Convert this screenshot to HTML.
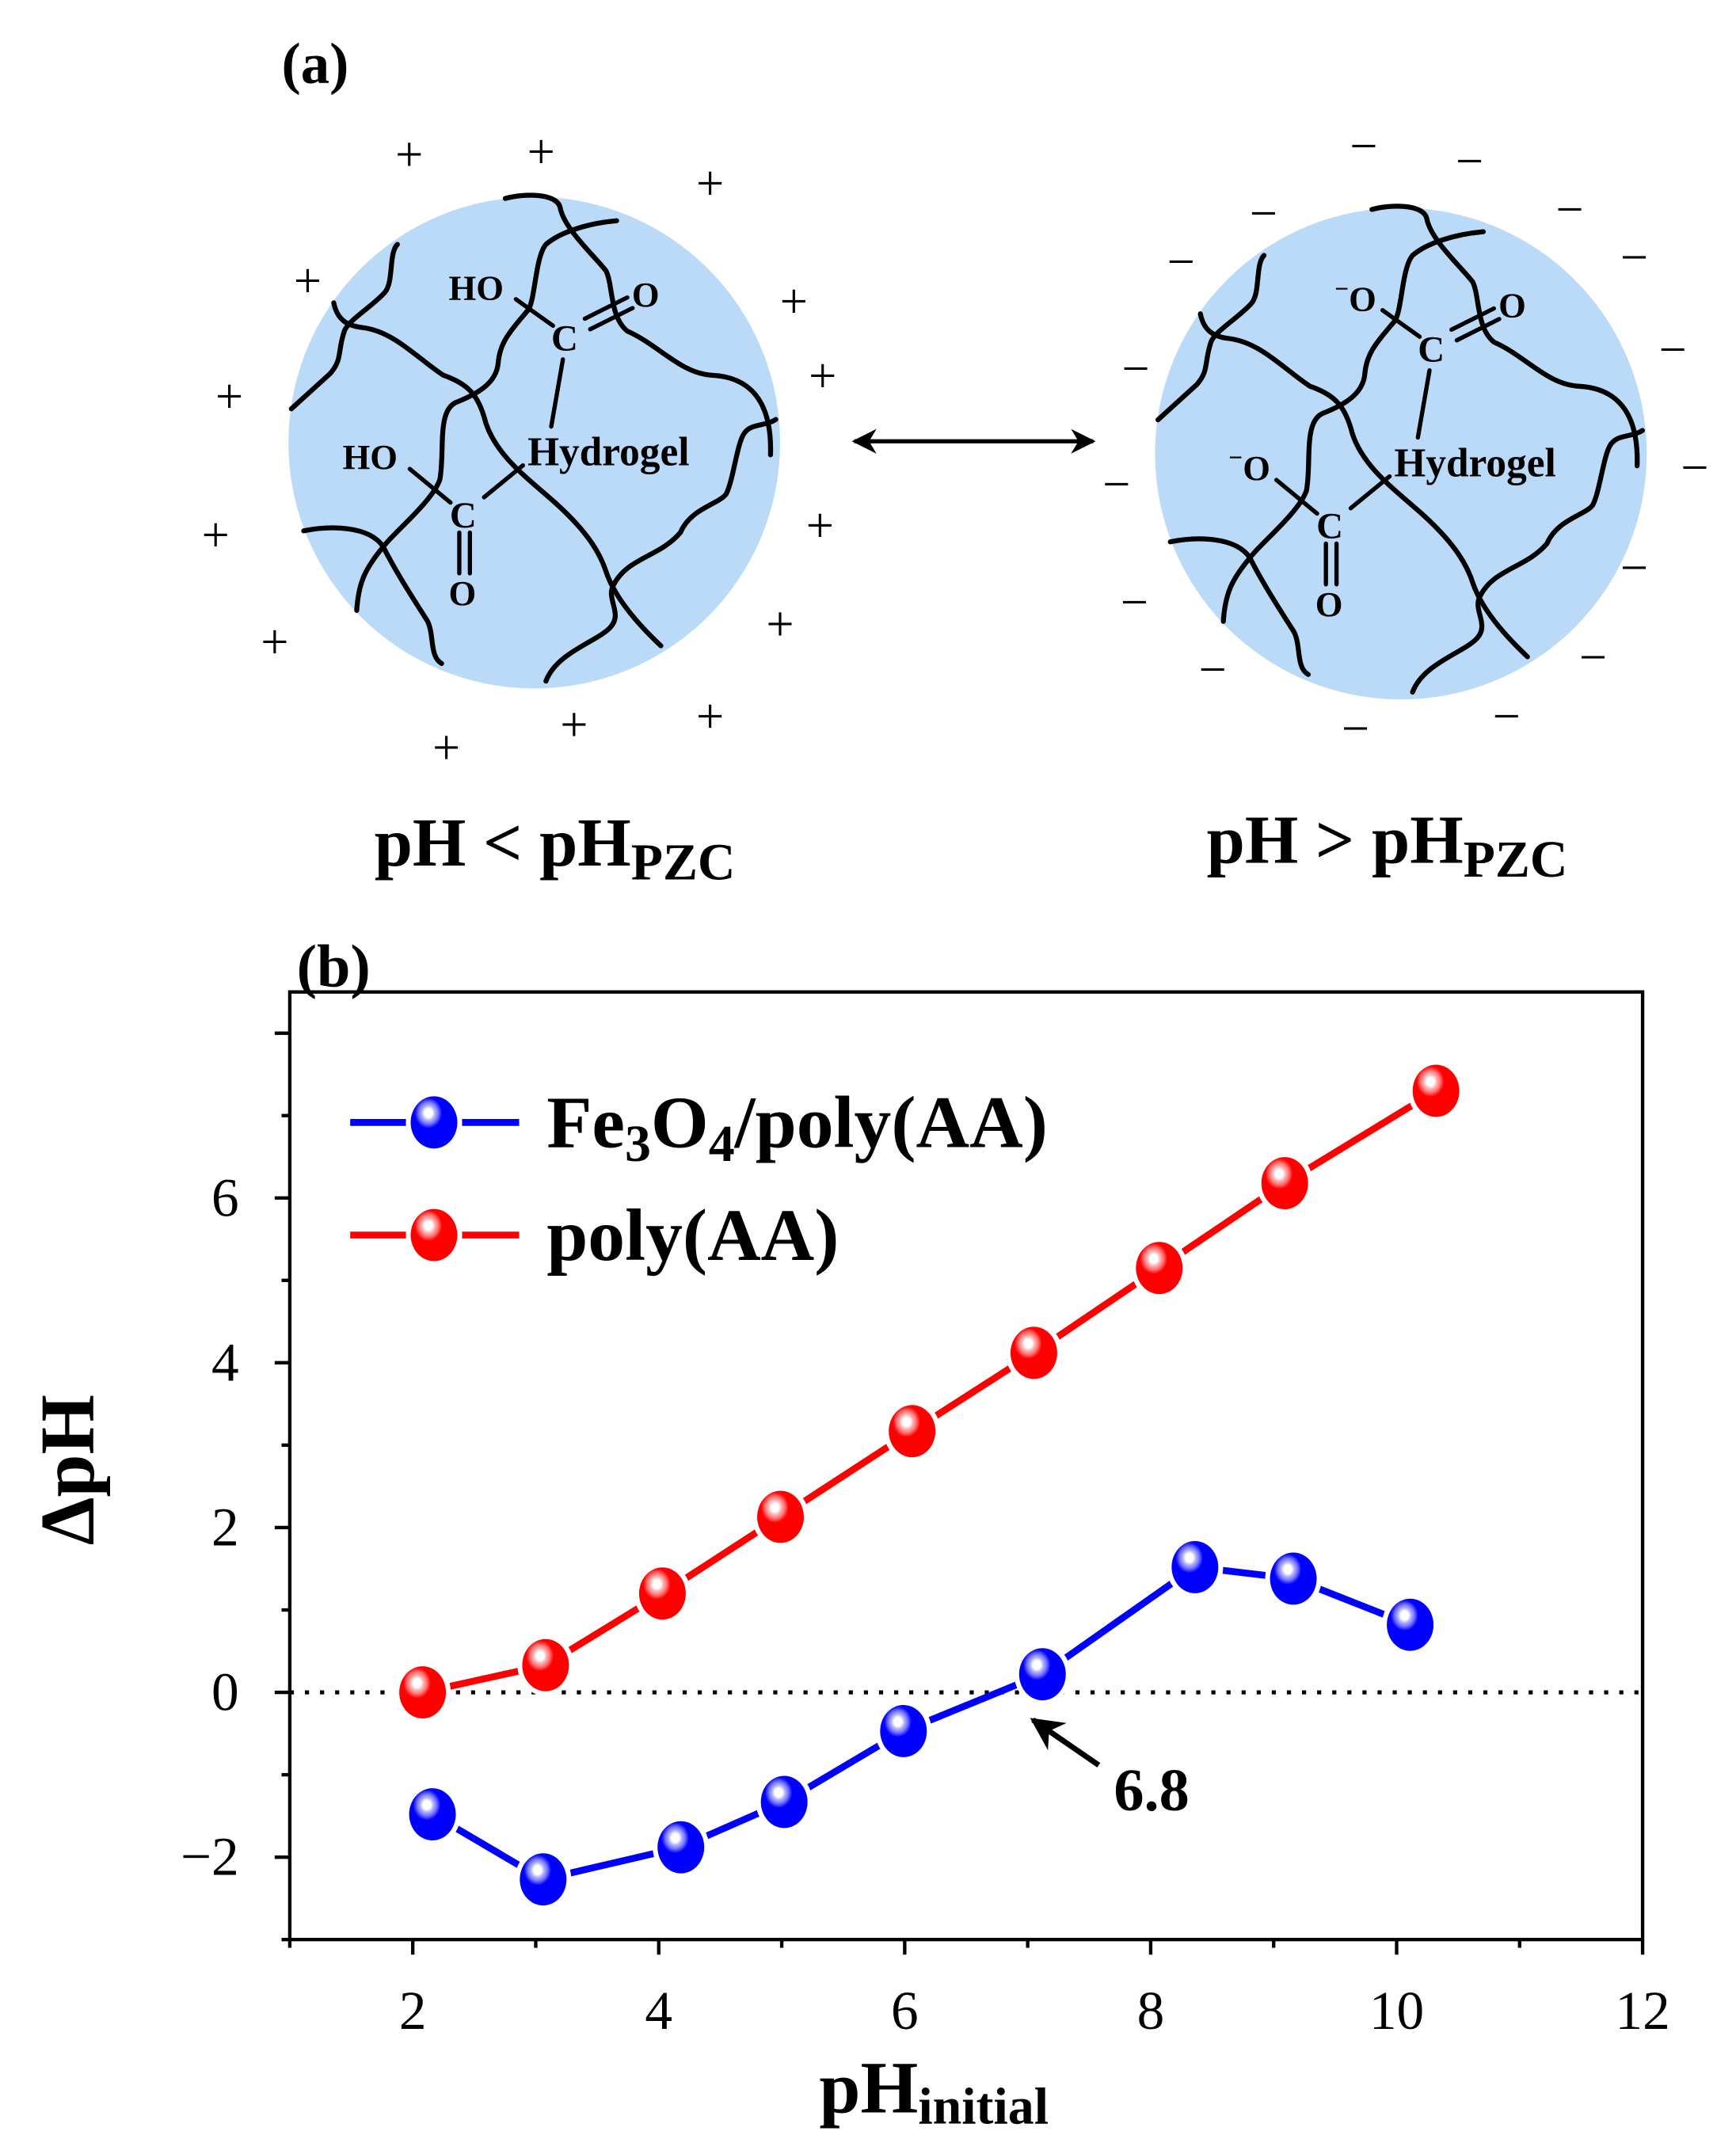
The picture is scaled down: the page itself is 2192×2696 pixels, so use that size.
<!DOCTYPE html>
<html><head><meta charset="utf-8"><style>
html,body{margin:0;padding:0;background:#fff;}
svg{display:block;}
text{font-family:"Liberation Serif",serif;font-weight:bold;fill:#000;}
text.reg{font-weight:normal;}
</style></head><body>
<svg id="fig" width="2192" height="2696" viewBox="0 0 1264 1554" xmlns="http://www.w3.org/2000/svg">
<defs>
<radialGradient id="gb" cx="0.38" cy="0.32" r="0.7"><stop offset="0" stop-color="#fff"/><stop offset="0.12" stop-color="#fff"/><stop offset="0.2" stop-color="#b3b3ff"/><stop offset="0.3" stop-color="#7373ff"/><stop offset="0.42" stop-color="#0000ff"/><stop offset="1" stop-color="#0000ff"/></radialGradient>
<radialGradient id="gr" cx="0.38" cy="0.32" r="0.7"><stop offset="0" stop-color="#fff"/><stop offset="0.12" stop-color="#fff"/><stop offset="0.2" stop-color="#ffb3b3"/><stop offset="0.3" stop-color="#ff7373"/><stop offset="0.42" stop-color="#ff0000"/><stop offset="1" stop-color="#ff0000"/></radialGradient>
<marker id="ah" viewBox="0 0 10 10" refX="9" refY="5" markerWidth="6" markerHeight="6" orient="auto-start-reverse"><path d="M0,0 L10,5 L0,10 L3,5 z" fill="#000"/></marker>
</defs>

<text x="205" y="60" font-size="42">(a)</text>

<g>
<circle cx="389" cy="322" r="179" fill="#bbdaf8"/>
<g transform="translate(201.8,132.6) scale(0.2575)" fill="none" stroke="#000" stroke-width="14" stroke-linecap="round">
<path d="M645,45 C700,30 790,30 800,70 C810,130 900,210 930,250 C950,290 940,380 990,420 C1080,460 1140,540 1230,545 C1330,550 1400,610 1395,770"/>
<path d="M960,108 C880,115 800,140 760,175 C730,210 730,330 710,360 C660,420 630,450 625,510 C620,570 560,600 510,620 C450,640 475,760 460,840 C440,900 330,990 300,1030 C250,1090 230,1130 225,1210"/>
<path d="M340,175 C315,200 330,280 305,310 C270,350 200,390 190,420 C170,480 185,500 150,540 L40,640"/>
<path d="M160,340 C170,390 200,405 240,410 C330,420 400,500 470,545 C540,570 570,600 590,680 C620,770 700,830 780,900 C870,980 910,1040 930,1100 C950,1160 1000,1230 1085,1310"/>
<path d="M75,985 C150,970 260,970 300,1030 C340,1110 400,1200 425,1240 C445,1280 430,1340 465,1360"/>
<path d="M760,1410 C790,1330 900,1300 940,1260 C980,1220 930,1180 950,1140 C990,1060 1080,1060 1140,990 C1170,920 1250,910 1270,880 C1290,840 1300,740 1320,710 C1340,680 1380,690 1410,670"/>
<path d="M675,330 L780,405 M870,385 L990,325 M885,415 L1005,355 M808,500 L775,690 M375,810 L490,905 M585,890 L695,800 M515,990 L515,1105 M545,990 L545,1105" stroke-width="12"/>
<g stroke="none" fill="#000">
<text x="485" y="332" font-size="100">HO</text>
<text x="775" y="475" font-size="105">C</text>
<text x="1003" y="350" font-size="100">O</text>
<text x="708" y="800" font-size="115">Hydrogel</text>
<text x="185" y="810" font-size="100">HO</text>
<text x="488" y="975" font-size="105">C</text>
<text x="485" y="1195" font-size="100">O</text>
</g></g>
</g>
<g font-size="36" text-anchor="middle">
<text class="reg" x="298" y="124">+</text><text class="reg" x="394" y="122">+</text><text class="reg" x="517" y="145">+</text><text class="reg" x="224" y="216">+</text><text class="reg" x="578" y="231">+</text><text class="reg" x="599" y="285">+</text><text class="reg" x="167" y="300">+</text><text class="reg" x="157" y="401">+</text><text class="reg" x="597" y="394">+</text><text class="reg" x="200" y="479">+</text><text class="reg" x="568" y="466">+</text><text class="reg" x="418" y="539">+</text><text class="reg" x="517" y="533">+</text><text class="reg" x="325" y="556">+</text>
</g>

<line x1="622" y1="321" x2="796" y2="321" stroke="#000" stroke-width="3" marker-start="url(#ah)" marker-end="url(#ah)"/>

<g>
<circle cx="1020" cy="330" r="179" fill="#bbdaf8"/>
<g transform="translate(832.8,140.6) scale(0.2575)" fill="none" stroke="#000" stroke-width="14" stroke-linecap="round">
<path d="M645,45 C700,30 790,30 800,70 C810,130 900,210 930,250 C950,290 940,380 990,420 C1080,460 1140,540 1230,545 C1330,550 1400,610 1395,770"/>
<path d="M960,108 C880,115 800,140 760,175 C730,210 730,330 710,360 C660,420 630,450 625,510 C620,570 560,600 510,620 C450,640 475,760 460,840 C440,900 330,990 300,1030 C250,1090 230,1130 225,1210"/>
<path d="M340,175 C315,200 330,280 305,310 C270,350 200,390 190,420 C170,480 185,500 150,540 L40,640"/>
<path d="M160,340 C170,390 200,405 240,410 C330,420 400,500 470,545 C540,570 570,600 590,680 C620,770 700,830 780,900 C870,980 910,1040 930,1100 C950,1160 1000,1230 1085,1310"/>
<path d="M75,985 C150,970 260,970 300,1030 C340,1110 400,1200 425,1240 C445,1280 430,1340 465,1360"/>
<path d="M760,1410 C790,1330 900,1300 940,1260 C980,1220 930,1180 950,1140 C990,1060 1080,1060 1140,990 C1170,920 1250,910 1270,880 C1290,840 1300,740 1320,710 C1340,680 1380,690 1410,670"/>
<path d="M675,330 L780,405 M870,385 L990,325 M885,415 L1005,355 M808,500 L775,690 M375,810 L490,905 M585,890 L695,800 M515,990 L515,1105 M545,990 L545,1105" stroke-width="12"/>
<g stroke="none" fill="#000">
<text x="540" y="332" font-size="100"><tspan font-size="70" dy="-40">−</tspan><tspan dy="40">O</tspan></text>
<text x="775" y="475" font-size="105">C</text>
<text x="1003" y="350" font-size="100">O</text>
<text x="708" y="800" font-size="115">Hydrogel</text>
<text x="240" y="810" font-size="100"><tspan font-size="70" dy="-40">−</tspan><tspan dy="40">O</tspan></text>
<text x="488" y="975" font-size="105">C</text>
<text x="485" y="1195" font-size="100">O</text>
</g></g>
</g>
<g font-size="36" text-anchor="middle">
<text class="reg" x="993" y="118">−</text><text class="reg" x="1070" y="129">−</text><text class="reg" x="920" y="167">−</text><text class="reg" x="1143" y="164">−</text><text class="reg" x="860" y="202">−</text><text class="reg" x="1190" y="199">−</text><text class="reg" x="827" y="280">−</text><text class="reg" x="1218" y="266">−</text><text class="reg" x="813" y="364">−</text><text class="reg" x="1234" y="352">−</text><text class="reg" x="826" y="450">−</text><text class="reg" x="1190" y="425">−</text><text class="reg" x="883" y="499">−</text><text class="reg" x="1160" y="490">−</text><text class="reg" x="987" y="542">−</text><text class="reg" x="1097" y="533">−</text>
</g>

<text x="404" y="630" font-size="50" text-anchor="middle">pH &lt; pH<tspan font-size="38" dy="10">PZC</tspan></text>
<text x="1010" y="628" font-size="50" text-anchor="middle">pH &gt; pH<tspan font-size="38" dy="10">PZC</tspan></text>

<text x="216" y="718" font-size="44">(b)</text>

<g id="chart"></g>
</svg>
<script>
const xFe=[2.16,3.06,4.18,5.02,5.99,7.12,8.36,9.16,10.11];
const yFe=[-1.48,-2.27,-1.88,-1.33,-0.47,0.22,1.52,1.38,0.82];
const xPA=[2.08,3.08,4.03,4.99,6.06,7.05,8.07,9.09,10.32];
const yPA=[0.0,0.33,1.2,2.13,3.17,4.12,5.15,6.18,7.3];
const xTicks=[2,4,6,8,10,12];
const yTicks=[-2,0,2,4,6];
const seriesNames=["Fe3O4/poly(AA)","poly(AA)"];

const NS="http://www.w3.org/2000/svg";
const L=211,R=1196,T=722,B=1412;
const xMin=1,xMax=12,yZero=1232,yUnit=60;
function sx(v){return L+(v-xMin)*(R-L)/(xMax-xMin);}
function sy(v){return yZero-v*yUnit;}
const g=document.getElementById('chart');
function mk(tag,attrs,parent){const e=document.createElementNS(NS,tag);for(const k in attrs)e.setAttribute(k,attrs[k]);(parent||g).appendChild(e);return e;}

let fr=mk('rect',{x:L,y:T,width:R-L,height:B-T,fill:'none',stroke:'#000','stroke-width':2.5});


let zl=mk('line',{x1:L,x2:R,y1:sy(0),y2:sy(0),stroke:'#000','stroke-width':3,'stroke-dasharray':'3,8'});


for(let v=1;v<=12;v++){
  const major=v%2===0;
  let t=mk('line',{x1:sx(v),x2:sx(v),y1:B,y2:B+(major?11:6),stroke:'#000','stroke-width':2.5});
  
  
}
xTicks.forEach(v=>{
  let t=mk('text',{x:sx(v),y:1477,'font-size':40,'text-anchor':'middle','class':'reg'});
  t.textContent=v;
  
  
});
for(let v=-3;v<=8;v++){
  const y=sy(v); if(y<T||y>B)continue;
  const major=v%2===0;
  let t=mk('line',{x1:L-(major?11:6),x2:L,y1:y,y2:y,stroke:'#000','stroke-width':2.5});
  
  
}
yTicks.forEach(v=>{
  let t=mk('text',{x:174,y:sy(v)+13,'font-size':40,'text-anchor':'end','class':'reg'});
  t.textContent=v<0?'\u2212'+Math.abs(v):v;
  
  
});
let yt=mk('text',{x:0,y:0,'font-size':56,'text-anchor':'middle',transform:'translate(68,1070) rotate(-90)'});
yt.textContent='\u0394pH';


let xt=mk('text',{x:680,y:1538,'font-size':54,'text-anchor':'middle'});
xt.innerHTML='pH<tspan font-size="38" dy="8">initial</tspan>';



function series(xs,ys,color,grad,name){
  const grp=mk('g',{});
  
  
  const pts=xs.map((x,i)=>sx(x)+','+sy(ys[i])).join(' ');
  mk('polyline',{points:pts,fill:'none',stroke:color,'stroke-width':5},grp);
  xs.forEach((x,i)=>{
    const m=mk('ellipse',{cx:sx(x),cy:sy(ys[i]),rx:17,ry:19,fill:'url(#'+grad+')',stroke:'#fff','stroke-width':7,'paint-order':'stroke'},grp);
    
    
  });
}
series(xPA,yPA,'#ff0000','gr','series-poly-aa');
series(xFe,yFe,'#0000ff','gb','series-fe3o4-poly-aa');

function legend(y,color,grad,html,name){
  const grp=mk('g',{});
  
  
  mk('line',{x1:255,x2:378,y1:y,y2:y,stroke:color,'stroke-width':5},grp);
  mk('ellipse',{cx:316,cy:y,rx:17,ry:19,fill:'url(#'+grad+')',stroke:'#fff','stroke-width':7,'paint-order':'stroke'},grp);
  const t=mk('text',{x:398,y:y+18,'font-size':54},grp);
  t.innerHTML=html;
}
legend(817,'#0000ff','gb','Fe<tspan font-size="38" dy="10">3</tspan><tspan dy="-10">O</tspan><tspan font-size="38" dy="10">4</tspan><tspan dy="-10">/poly(AA)</tspan>','legend-entry-fe3o4');
legend(899,'#ff0000','gr','poly(AA)','legend-entry-poly-aa');

let ar=mk('line',{x1:800,y1:1285,x2:752,y2:1252,stroke:'#000','stroke-width':4,'marker-end':'url(#ah)'});


let an=mk('text',{x:811,y:1318,'font-size':44});
an.textContent='6.8';


</script>
</body></html>
